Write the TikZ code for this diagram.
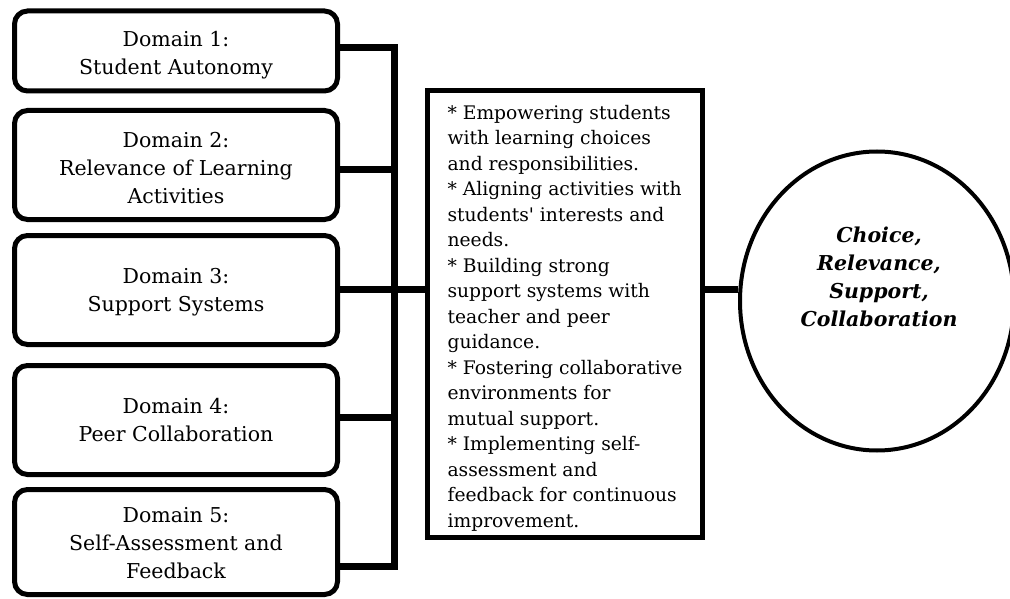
\documentclass[tikz,border=0pt]{standalone}
\usepackage{fontspec}
\setmainfont{DejaVu Serif}[Ligatures=TeXOff]
\usetikzlibrary{shapes.geometric}
\newcommand\nudgec[2]{\raisebox{-#1}[\height][\depth]{\begin{tabular}{@{}c@{}}#2\end{tabular}}}
\newcommand\nudgel[2]{\raisebox{-#1}[\height][\depth]{\begin{tabular}{@{}l@{}}#2\end{tabular}}}
\begin{document}
\begin{tikzpicture}[x=1pt,y=-1pt,
  domainbox/.style={draw=black, line width=5pt, rounded corners=13pt,
    minimum width=323pt, align=center, inner sep=0pt,
    font=\fontsize{20.5}{28}\selectfont},
  bus/.style={line width=7pt},
  midbox/.style={draw=black, line width=5pt, minimum width=275pt,
    minimum height=447pt, align=left, inner sep=0pt,
    font=\fontsize{18.7}{25.5}\selectfont},
  goal/.style={draw=black, ellipse, line width=4pt, minimum width=274pt,
    minimum height=299pt, inner sep=0pt},
  goaltext/.style={align=center, inner sep=0pt,
    font=\fontsize{20.5}{27.8}\selectfont\bfseries\itshape}]
\useasboundingbox (0,0) rectangle (1010,599);

\node[domainbox, minimum height=80pt]  (b1) at (176,51)  {\nudgec{4pt}{Domain 1:\\Student Autonomy}};
\node[domainbox, minimum height=109pt] (b2) at (176,165) {\nudgec{5pt}{Domain 2:\\Relevance of Learning\\Activities}};
\node[domainbox, minimum height=109pt] (b3) at (176,290) {\nudgec{2pt}{Domain 3:\\Support Systems}};
\node[domainbox, minimum height=109pt] (b4) at (176,420) {Domain 4:\\Peer Collaboration};
\node[domainbox, minimum height=105pt] (b5) at (176,542) {\nudgec{3pt}{Domain 5:\\Self-Assessment and\\Feedback}};

\coordinate (j1) at (394,48);
\coordinate (j2) at (394,170);
\coordinate (j3) at (394,289);
\coordinate (j4) at (394,417);
\coordinate (j5) at (394,566);

\node[midbox] (m) at (565,314) {\nudgel{4pt}{* Empowering students\\
with learning choices\\
and responsibilities.\\
{}* Aligning activities with\\
students' interests and\\
needs.\\
{}* Building strong\\
support systems with\\
teacher and peer\\
guidance.\\
{}* Fostering collaborative\\
environments for\\
mutual support.\\
{}* Implementing self-\\
assessment and\\
feedback for continuous\\
improvement.}};

\node[goal] (e) at (877,301) {};
\node[goaltext] (et) at (879,277) {Choice,\\Relevance,\\Support,\\Collaboration};

\draw[bus] (b1.east |- j1) -- (j1) -- (j5) -- (b5.east |- j5);
\draw[bus] (b2.east |- j2) -- (j2);
\draw[bus] (b3.east |- j3) -- (j3);
\draw[bus] (b4.east |- j4) -- (j4);
\draw[bus] (j3) -- (m.west |- j3);
\draw[bus] (m.east |- j3) -- (e.west |- j3);
\end{tikzpicture}
\end{document}
